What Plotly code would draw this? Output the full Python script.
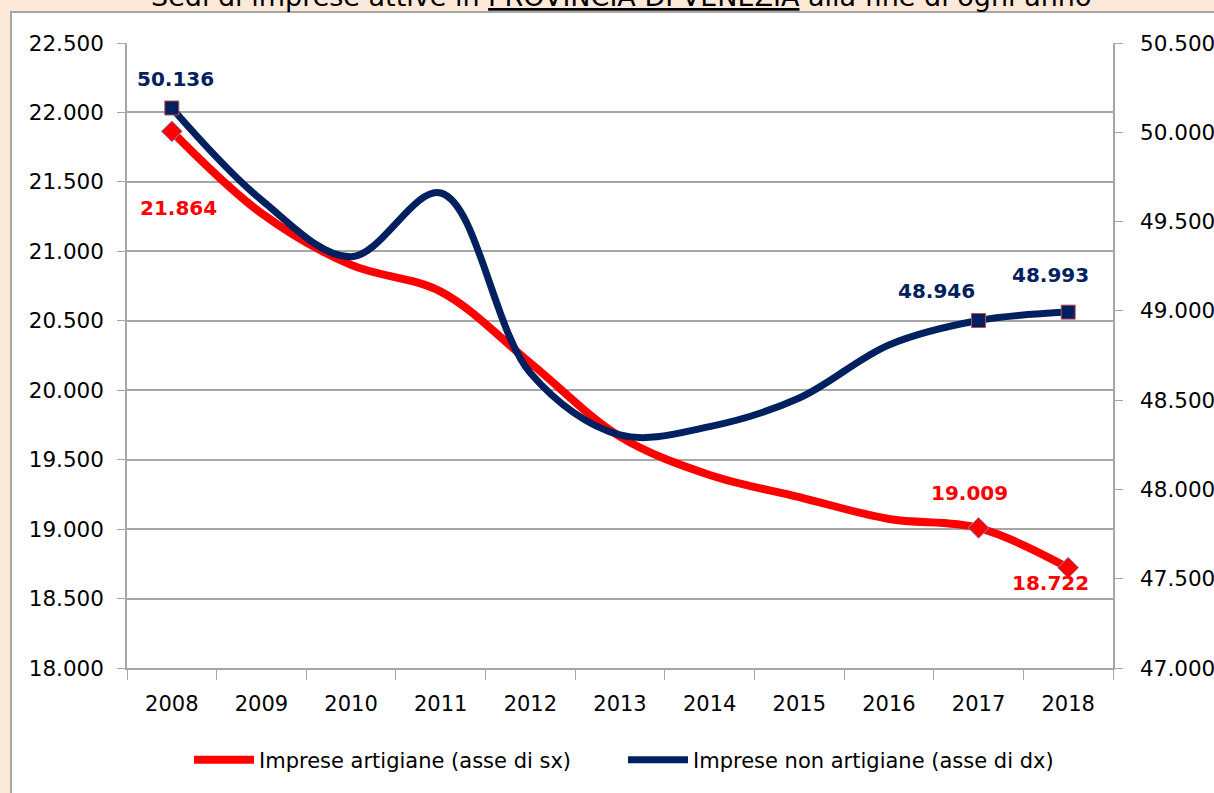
import plotly.graph_objects as go

years = ["2008", "2009", "2010", "2011", "2012", "2013", "2014", "2015", "2016", "2017", "2018"]
artigiane = [21864, 21274, 20902, 20710, 20196, 19666, 19390, 19231, 19073, 19009, 18722]
non_artigiane = [50136, 49621, 49303, 49660, 48652, 48305, 48352, 48512, 48809, 48946, 48993]
labelled_idx = [0, 9, 10]

left_ticks = list(range(18000, 22501, 500))
right_ticks = list(range(47000, 50501, 500))

RED = "#FF0000"
NAVY = "#002060"
GRID = "#A6A6A6"
PEACH = "#FDE9D9"

W, H = 1214, 793
ML, MR, MT, MB = 127, 101, 43, 125
PW, PH = W - ML - MR, H - MT - MB


def px_x(p):
    return (p - ML) / PW


def px_y(p):
    return (H - MB - p) / PH


def fmt(v):
    return f"{v:,}".replace(",", ".")


fig = go.Figure()

fig.add_trace(go.Scatter(
    x=years, y=artigiane, mode="lines", name="Imprese artigiane (asse di sx)",
    line=dict(color=RED, width=8, shape="spline", smoothing=1.0), yaxis="y",
))
fig.add_trace(go.Scatter(
    x=years, y=non_artigiane, mode="lines", name="Imprese non artigiane (asse di dx)",
    line=dict(color=NAVY, width=7, shape="spline", smoothing=1.0), yaxis="y2",
))
fig.add_trace(go.Scatter(
    x=[years[i] for i in labelled_idx], y=[artigiane[i] for i in labelled_idx],
    mode="markers", showlegend=False, yaxis="y",
    marker=dict(symbol="diamond", size=16, color=RED, line=dict(color="#7F8FBF", width=1)),
))
fig.add_trace(go.Scatter(
    x=[years[i] for i in labelled_idx], y=[non_artigiane[i] for i in labelled_idx],
    mode="markers", showlegend=False, yaxis="y2",
    marker=dict(symbol="square", size=14, color=NAVY, line=dict(color="#C0504D", width=1)),
))

red_shifts = {0: (7, -77), 9: (-9, 35), 10: (-18, -15)}
navy_shifts = {0: (4, 29), 9: (-42, 30), 10: (-18, 37)}
annotations = []
for i in labelled_idx:
    xs, ys = red_shifts[i]
    annotations.append(dict(
        x=i, y=artigiane[i], xref="x", yref="y", text="<b>" + fmt(artigiane[i]) + "</b>",
        showarrow=False, xshift=xs, yshift=ys,
        font=dict(family="DejaVu Sans", size=20, color=RED),
    ))
    xs, ys = navy_shifts[i]
    annotations.append(dict(
        x=i, y=non_artigiane[i], xref="x", yref="y2", text="<b>" + fmt(non_artigiane[i]) + "</b>",
        showarrow=False, xshift=xs, yshift=ys,
        font=dict(family="DejaVu Sans", size=20, color=NAVY),
    ))

annotations.append(dict(
    x=px_x(621), y=px_y(14), xref="paper", yref="paper", xanchor="center", yanchor="bottom",
    text="Sedi di imprese attive in <u>PROVINCIA DI VENEZIA</u> alla fine di ogni anno",
    showarrow=False, font=dict(family="DejaVu Sans", size=27, color="#000000"),
))

shapes = [dict(
    type="rect", xref="paper", yref="paper", layer="below",
    x0=px_x(11), x1=px_x(W + 10), y0=px_y(H + 10), y1=px_y(12),
    fillcolor="white", line=dict(color=GRID, width=2),
)]

fig.update_layout(
    width=W, height=H,
    margin=dict(l=ML, r=MR, t=MT, b=MB, autoexpand=False),
    paper_bgcolor=PEACH, plot_bgcolor="white",
    separators=",.",
    font=dict(family="DejaVu Sans", size=21, color="#000000"),
    showlegend=True,
    legend=dict(orientation="h", x=px_x(189), xanchor="left", y=px_y(760), yanchor="middle",
                font=dict(size=21), bgcolor="rgba(0,0,0,0)", itemwidth=60,
                entrywidth=359, entrywidthmode="pixels",
                tracegroupgap=0, traceorder="normal"),
    xaxis=dict(type="category", range=[-0.5, 10.5], showgrid=False,
               tickson="boundaries", ticks="outside", ticklen=10, tickcolor=GRID, tickwidth=1,
               showline=True, linecolor=GRID, linewidth=1.5, ticklabelstandoff=16,
               tickfont=dict(size=21)),
    yaxis=dict(range=[18000, 22500], tickvals=left_ticks, tickformat=",d",
               showgrid=True, gridcolor=GRID, gridwidth=1.5,
               ticks="outside", ticklen=8, tickcolor=GRID,
               showline=True, linecolor=GRID, linewidth=1.5, ticklabelstandoff=9,
               zeroline=False, tickfont=dict(size=21.5)),
    yaxis2=dict(range=[47000, 50500], tickvals=right_ticks, tickformat=",d",
                overlaying="y", side="right", showgrid=False,
                ticks="outside", ticklen=8, tickcolor=GRID,
                showline=True, linecolor=GRID, linewidth=1.5, ticklabelstandoff=13,
                zeroline=False, tickfont=dict(size=21.5)),
    annotations=annotations,
    shapes=shapes,
)

fig.write_html("out.html", config={"displayModeBar": False},
               post_script="document.body.style.margin='0px';")
